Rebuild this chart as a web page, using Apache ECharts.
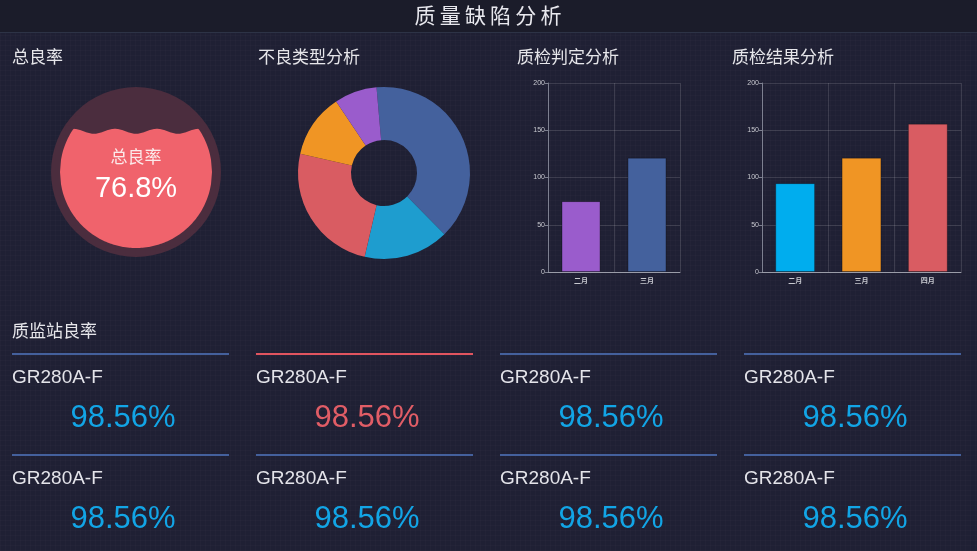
<!DOCTYPE html>
<html>
<head>
<meta charset="utf-8">
<title>质量缺陷分析</title>
<script src="https://cdn.jsdelivr.net/npm/echarts@6/dist/echarts.min.js"></script>
<style>
html, body { margin: 0; padding: 0; }
body {
    width: 977px; height: 551px; overflow: hidden;
    background-color: #1f2034;
    background-image:
        linear-gradient(rgba(255,255,255,0.016) 1px, transparent 1px),
        linear-gradient(90deg, rgba(255,255,255,0.016) 1px, transparent 1px);
    background-size: 5px 5px;
}
#main { width: 977px; height: 551px; }
</style>
</head>
<body>
<div id="main"></div>
<script>
var passRate = 76.8;
var passLabel = '总良率';

var defectTypes = ['类型一', '类型二', '类型三', '类型四', '类型五'];
var defectValues = [39, 16, 25, 12, 8];

var judgeMonths = ['二月', '三月'];
var judgeValues = [75, 121];

var resultMonths = ['二月', '三月', '四月'];
var resultValues = [94, 121, 157];

var stationNames = ['GR280A-F', 'GR280A-F', 'GR280A-F', 'GR280A-F',
                    'GR280A-F', 'GR280A-F', 'GR280A-F', 'GR280A-F'];
var stationRates = [98.56, 98.56, 98.56, 98.56, 98.56, 98.56, 98.56, 98.56];
var stationStatus = ['ok', 'warn', 'ok', 'ok', 'ok', 'ok', 'ok', 'ok'];

var FONT = '"Noto Sans CJK SC", "Noto Sans", sans-serif';
var LATIN = '"Liberation Sans", Arial, sans-serif';
var blue = '#44619d', cyan = '#1e9dcf', red = '#d95c62', orange = '#f09524', purple = '#9a5ccc';

function text_el(x, y, str, size, color, align, family, weight){
    return {
        type: 'text', x: x, y: y, silent: true,
        style: {
            text: str, fill: color, fontSize: size, fontFamily: family || FONT,
            fontWeight: weight || 'normal',
            align: align || 'left', verticalAlign: 'middle'
        }
    };
}

function render_liquid(params, api){
    var level = api.value(0) / 100;
    var cx = 136, cy = 172, rOut = 85, rIn = 76;
    var waveLen = 42, amp = 2.5;
    var baseY = cy + rIn - level * 2 * rIn;
    var top = [], bottom = [];
    for (var x = -rIn; x <= rIn; x += 1) {
        var h = Math.sqrt(Math.max(rIn * rIn - x * x, 0));
        var wy = baseY + amp * Math.cos(2 * Math.PI * x / waveLen);
        top.push([cx + x, Math.min(Math.max(wy, cy - h), cy + h)]);
        bottom.unshift([cx + x, cy + h]);
    }
    return {
        type: 'group',
        children: [
            {type: 'circle', shape: {cx: cx, cy: cy, r: rOut}, style: {fill: '#4b2d3e'}},
            {type: 'polygon', shape: {points: top.concat(bottom)}, style: {fill: '#f0636c'}},
            text_el(cx, 157, passLabel, 17, '#fbeaea', 'center'),
            text_el(cx, 189, api.value(0).toFixed(1) + '%', 29, '#ffffff', 'center', LATIN)
        ]
    };
}

function bar_axes(grid, cats){
    var x = {
        type: 'category', gridIndex: grid, data: cats,
        axisLine: {lineStyle: {color: '#9a9ca8'}},
        axisTick: {show: false},
        axisLabel: {color: '#c8c9d0', fontSize: 7, fontWeight: 'bold', margin: 5, fontFamily: FONT},
        splitLine: {show: true, lineStyle: {color: 'rgba(255,255,255,0.13)'}}
    };
    var y = {
        type: 'value', gridIndex: grid, min: 0, max: 200, interval: 50,
        axisLine: {show: true, lineStyle: {color: '#7d8090'}},
        axisTick: {show: true, length: 3, lineStyle: {color: '#7d8090'}},
        axisLabel: {color: '#c8c9d0', fontSize: 7, margin: 3, fontFamily: LATIN},
        splitLine: {show: true, lineStyle: {color: 'rgba(255,255,255,0.13)'}}
    };
    return [x, y];
}

function plot_dashboard(){
    var canvas = echarts.init(document.getElementById('main'), null, {renderer: 'canvas'});

    var graphic = [
        {type: 'rect', shape: {x: 0, y: 0, width: 977, height: 32}, style: {fill: '#1b1c2a'}},
        {type: 'rect', shape: {x: 0, y: 32, width: 977, height: 1}, style: {fill: '#2d3346'}},
        text_el(488, 15, '质\u2009量\u2009缺\u2009陷\u2009分\u2009析', 21, '#e8e8ee', 'center'),
        text_el(12, 57, '总良率', 17, '#e6e6ea'),
        text_el(258, 57, '不良类型分析', 17, '#e6e6ea'),
        text_el(517, 57, '质检判定分析', 17, '#e6e6ea'),
        text_el(732, 57, '质检结果分析', 17, '#e6e6ea'),
        text_el(12, 331, '质监站良率', 17, '#e6e6ea')
    ];

    for (var i = 0; i < stationNames.length; i++) {
        var col = i % 4, row = Math.floor(i / 4);
        var x0 = 12 + col * 244, y0 = 354 + row * 101;
        var warn = stationStatus[i] === 'warn';
        graphic.push({type: 'rect', shape: {x: x0, y: y0 - 1, width: 217, height: 2},
                      style: {fill: warn ? '#e0545f' : '#44609c'}});
        graphic.push(text_el(x0, y0 + 24, stationNames[i], 19, '#e4e4ea', 'left', LATIN));
        graphic.push(text_el(x0 + 111, y0 + 64, stationRates[i].toFixed(2) + '%', 31,
                             warn ? '#e15d66' : '#12a5e6', 'center', LATIN));
    }

    var a1 = bar_axes(0, judgeMonths);
    var a2 = bar_axes(1, resultMonths);

    var pieData = [];
    var pieColors = [blue, cyan, red, orange, purple];
    for (var k = 0; k < defectTypes.length; k++) {
        pieData.push({name: defectTypes[k], value: defectValues[k], itemStyle: {color: pieColors[k]}});
    }

    var judgeData = [];
    var judgeColors = [purple, blue];
    for (var j = 0; j < judgeValues.length; j++) {
        judgeData.push({value: judgeValues[j], itemStyle: {color: judgeColors[j]}});
    }
    var resultData = [];
    var resultColors = ['#00adee', orange, red];
    for (var r = 0; r < resultValues.length; r++) {
        resultData.push({value: resultValues[r], itemStyle: {color: resultColors[r]}});
    }

    var option = {
        backgroundColor: 'transparent',
        animation: false,
        graphic: graphic,
        grid: [
            {left: 548, top: 83, width: 132, height: 189},
            {left: 762, top: 83, width: 199, height: 189}
        ],
        xAxis: [a1[0], a2[0]],
        yAxis: [a1[1], a2[1]],
        series: [
            {
                name: passLabel,
                type: 'custom',
                coordinateSystem: 'none',
                renderItem: render_liquid,
                data: [[passRate]]
            },
            {
                name: '不良类型',
                type: 'pie',
                center: [384, 173],
                radius: [33, 86],
                startAngle: 95,
                label: {show: false},
                labelLine: {show: false},
                itemStyle: {borderWidth: 0},
                data: pieData
            },
            {
                name: '质检判定',
                type: 'bar',
                xAxisIndex: 0, yAxisIndex: 0,
                barWidth: '59%',
                itemStyle: {borderColor: 'rgba(0,0,0,0.25)', borderWidth: 1},
                data: judgeData
            },
            {
                name: '质检结果',
                type: 'bar',
                xAxisIndex: 1, yAxisIndex: 1,
                barWidth: '60%',
                itemStyle: {borderColor: 'rgba(0,0,0,0.25)', borderWidth: 1},
                data: resultData
            }
        ]
    };
    canvas.setOption(option);
}

plot_dashboard();
</script>
</body>
</html>
